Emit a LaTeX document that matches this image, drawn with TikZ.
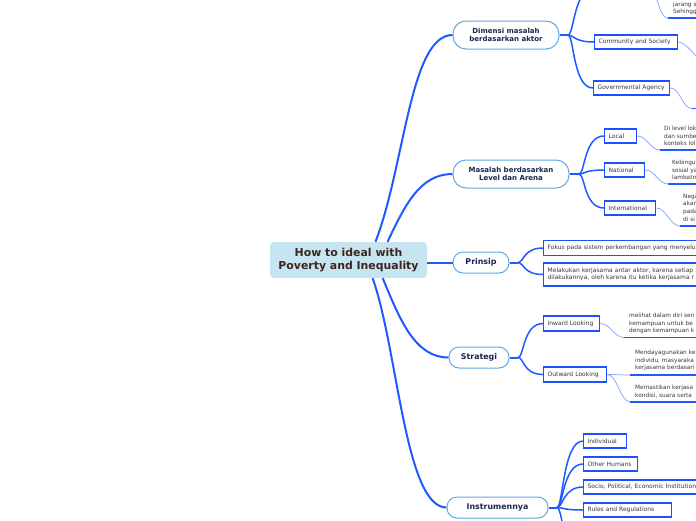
\documentclass[tikz,border=0pt]{standalone}
\usepackage{fontspec}
\setmainfont{DejaVu Sans}

\definecolor{trunkblue}{RGB}{30,90,255}
\definecolor{twigblue}{RGB}{135,170,255}
\definecolor{topicline}{RGB}{95,168,225}
\definecolor{rootfill}{RGB}{199,229,240}
\definecolor{roottext}{RGB}{58,38,28}
\definecolor{topictext}{RGB}{24,38,78}
\definecolor{subline}{RGB}{30,80,255}
\definecolor{subtext}{RGB}{55,55,55}

\tikzset{
  root/.style={fill=rootfill, rounded corners=4pt, text=roottext, align=center,
    font=\bfseries\fontsize{10.9}{13.4}\selectfont,
    minimum width=157pt, minimum height=36pt, inner sep=0pt},
  topic/.style={draw=topicline, line width=1pt, fill=white, rounded corners=10pt,
    text=topictext, align=center, inner sep=0pt,
    font=\bfseries\fontsize{#1}{8.3}\selectfont},
  topic/.default=7,
  subbox/.style={draw=subline, line width=1.3pt, fill=white, text=subtext,
    anchor=west, align=left, font=\fontsize{6}{7.5}\selectfont,
    inner xsep=4pt, inner ysep=0pt, minimum height=14pt, text width=#1},
  leaf/.style={text=subtext, anchor=base west, align=left, inner sep=0pt,
    font=\fontsize{5.8}{7.6}\selectfont},
  trunkline/.style={draw=trunkblue, line width=2pt},
  branchline/.style={draw=trunkblue, line width=1.5pt},
  twig/.style={draw=twigblue, line width=0.8pt},
  uline/.style={draw=trunkblue, line width=1.8pt},
}

\begin{document}
\begin{tikzpicture}[x=1pt,y=-1pt]
\useasboundingbox (0,0) rectangle (696,520);
\clip (0,0) rectangle (696,520);

% root and main topics
\node[root] (root) at (348.5,260) {How to ideal with\\Poverty and Inequality};
\node[topic, minimum width=106pt, minimum height=28pt, rounded corners=13pt] (dim) at (506,35) {Dimensi masalah\\berdasarkan aktor};
\node[topic, minimum width=116pt, minimum height=28pt, rounded corners=13pt] (lev) at (511,174) {Masalah berdasarkan\\Level dan Arena};
\node[topic=7.9, minimum width=56pt, minimum height=21pt] (pri) at (481,262.5) {Prinsip};
\node[topic=7.9, minimum width=60pt, minimum height=21pt] (str) at (479,357.5) {Strategi};
\node[topic=7.9, minimum width=101pt, minimum height=21pt] (ins) at (497.5,507.5) {Instrumennya};

\draw[trunkline] (root.34) .. controls (405,165) and (410,35) .. (dim.west);
\draw[trunkline] (root.25) .. controls (405,205) and (420,174) .. (lev.west);
\draw[trunkline] (pri.west -| root.east) -- (pri.west);
\draw[trunkline] (root.-28) .. controls (400,320) and (415,357.5) .. (str.west);
\draw[trunkline] (root.-37) .. controls (398,350) and (405,507.5) .. (ins.west);

% Dimensi masalah
\coordinate (dimhub) at (568,35);
\coordinate (dimtop) at (594,-12);
\coordinate (dimtopR) at (648,-12);
\node[subbox=75pt] (com) at (594,42) {Community and Society};
\node[subbox=68pt] (gov) at (593,88) {Governmental Agency};
\draw[trunkline] (dim.east) -- (dimhub);
\draw[branchline] (dimhub) .. controls +(6,0) and +(-20,0) .. (dimtop);
\foreach \c in {com,gov}
  \draw[branchline] (dimhub) .. controls +(6,0) and +(-20,0) .. (\c.west);

\node[leaf] (topleaf) at (673,13.9) {jarang s\\Sehingg};
\coordinate (topul) at (668,18.3);
\draw[twig] (dimtopR) .. controls +(10,0) and +(-10,0) .. (topul);
\draw[uline] (topul) -- +(40,0);
\coordinate (comleaf) at (712,68);
\draw[twig] (com.east) .. controls +(10,0) and +(-10,0) .. (comleaf);
\coordinate (govul) at (692,108.5);
\draw[twig] (gov.east) .. controls +(10,0) and +(-10,0) .. (govul);
\draw[uline] (govul) -- +(40,0);

% Level dan Arena
\coordinate (levhub) at (579,174);
\node[subbox=24pt] (loc) at (604,136) {Local};
\node[subbox=32pt] (nat) at (604,170) {National};
\node[subbox=43pt] (int) at (604,208) {International};
\draw[trunkline] (lev.east) -- (levhub);
\foreach \c in {loc,nat,int}
  \draw[branchline] (levhub) .. controls +(6,0) and +(-20,0) .. (\c.west);

% Prinsip
\coordinate (prihub) at (518,262.5);
\node[subbox=200pt, minimum height=15pt] (fok) at (543,248) {Fokus pada sistem perkembangan yang menyelu};
\node[subbox=200pt, minimum height=23pt] (mel) at (543,274.5) {Melakukan kerjasama antar aktor, karena setiap\\dilakukannya, oleh karena itu ketika kerjasama r};
\draw[trunkline] (pri.east) -- (prihub);
\foreach \c in {fok,mel}
  \draw[branchline] (prihub) .. controls +(6,0) and +(-20,0) .. (\c.west);

% Strategi
\coordinate (strhub) at (518,357.5);
\node[subbox=48pt, minimum height=15pt] (inw) at (543,323.5) {Inward Looking};
\node[subbox=55pt, minimum height=15pt] (out) at (543,374.5) {Outward Looking};
\draw[trunkline] (str.east) -- (strhub);
\foreach \c in {inw,out}
  \draw[branchline] (strhub) .. controls +(6,0) and +(-20,0) .. (\c.west);

% leaves with underline
\foreach \n/\p/\ux/\uy/\tx/\ty/\txt in {
  loc/loc/660/150/664/145.6/{Di level lok\\dan sumbe\\konteks lol},
  nat/nat/668/184/672/179.6/{Kebingu\\sosial ya\\lambatn},
  int/int/680/226/683/221.1/{Nega\\akan\\pada\\di si},
  inw/inw/624/337.5/629/332.6/{melihat dalam diri sen\\kemampuan untuk be\\dengan kemampuan k},
  outa/out/630/375/635/369.6/{Mendayagunakan ke\\individu, masyaraka\\kerjasama berdasari},
  outb/out/630/401.7/635/397.1/{Memastikan kerjasa\\kondisi, suara serta}}{
  \coordinate (\n-ul) at (\ux,\uy);
  \draw[twig] (\p.east) .. controls +(10,0) and +(-10,0) .. (\n-ul);
  \draw[uline] (\n-ul) -- +(80,0);
  \node[leaf] (\n-leaf) at (\tx,\ty) {\txt};
}

% Instrumennya
\coordinate (inshub) at (557,507.5);
\coordinate (insbot) at (583,560);
\node[subbox=35pt] (ind) at (583,441) {Individual};
\node[subbox=46pt] (oth) at (583,464) {Other Humans};
\node[subbox=150pt] (soc) at (583,487) {Socio, Political, Economic Institution};
\node[subbox=80pt] (rul) at (583,510) {Rules and Regulations};
\draw[trunkline] (ins.east) -- (inshub);
\foreach \c in {ind,oth,soc,rul}
  \draw[branchline] (inshub) .. controls +(6,0) and +(-20,0) .. (\c.west);
\draw[branchline] (inshub) .. controls +(6,0) and +(-20,0) .. (insbot);
\end{tikzpicture}
\end{document}
